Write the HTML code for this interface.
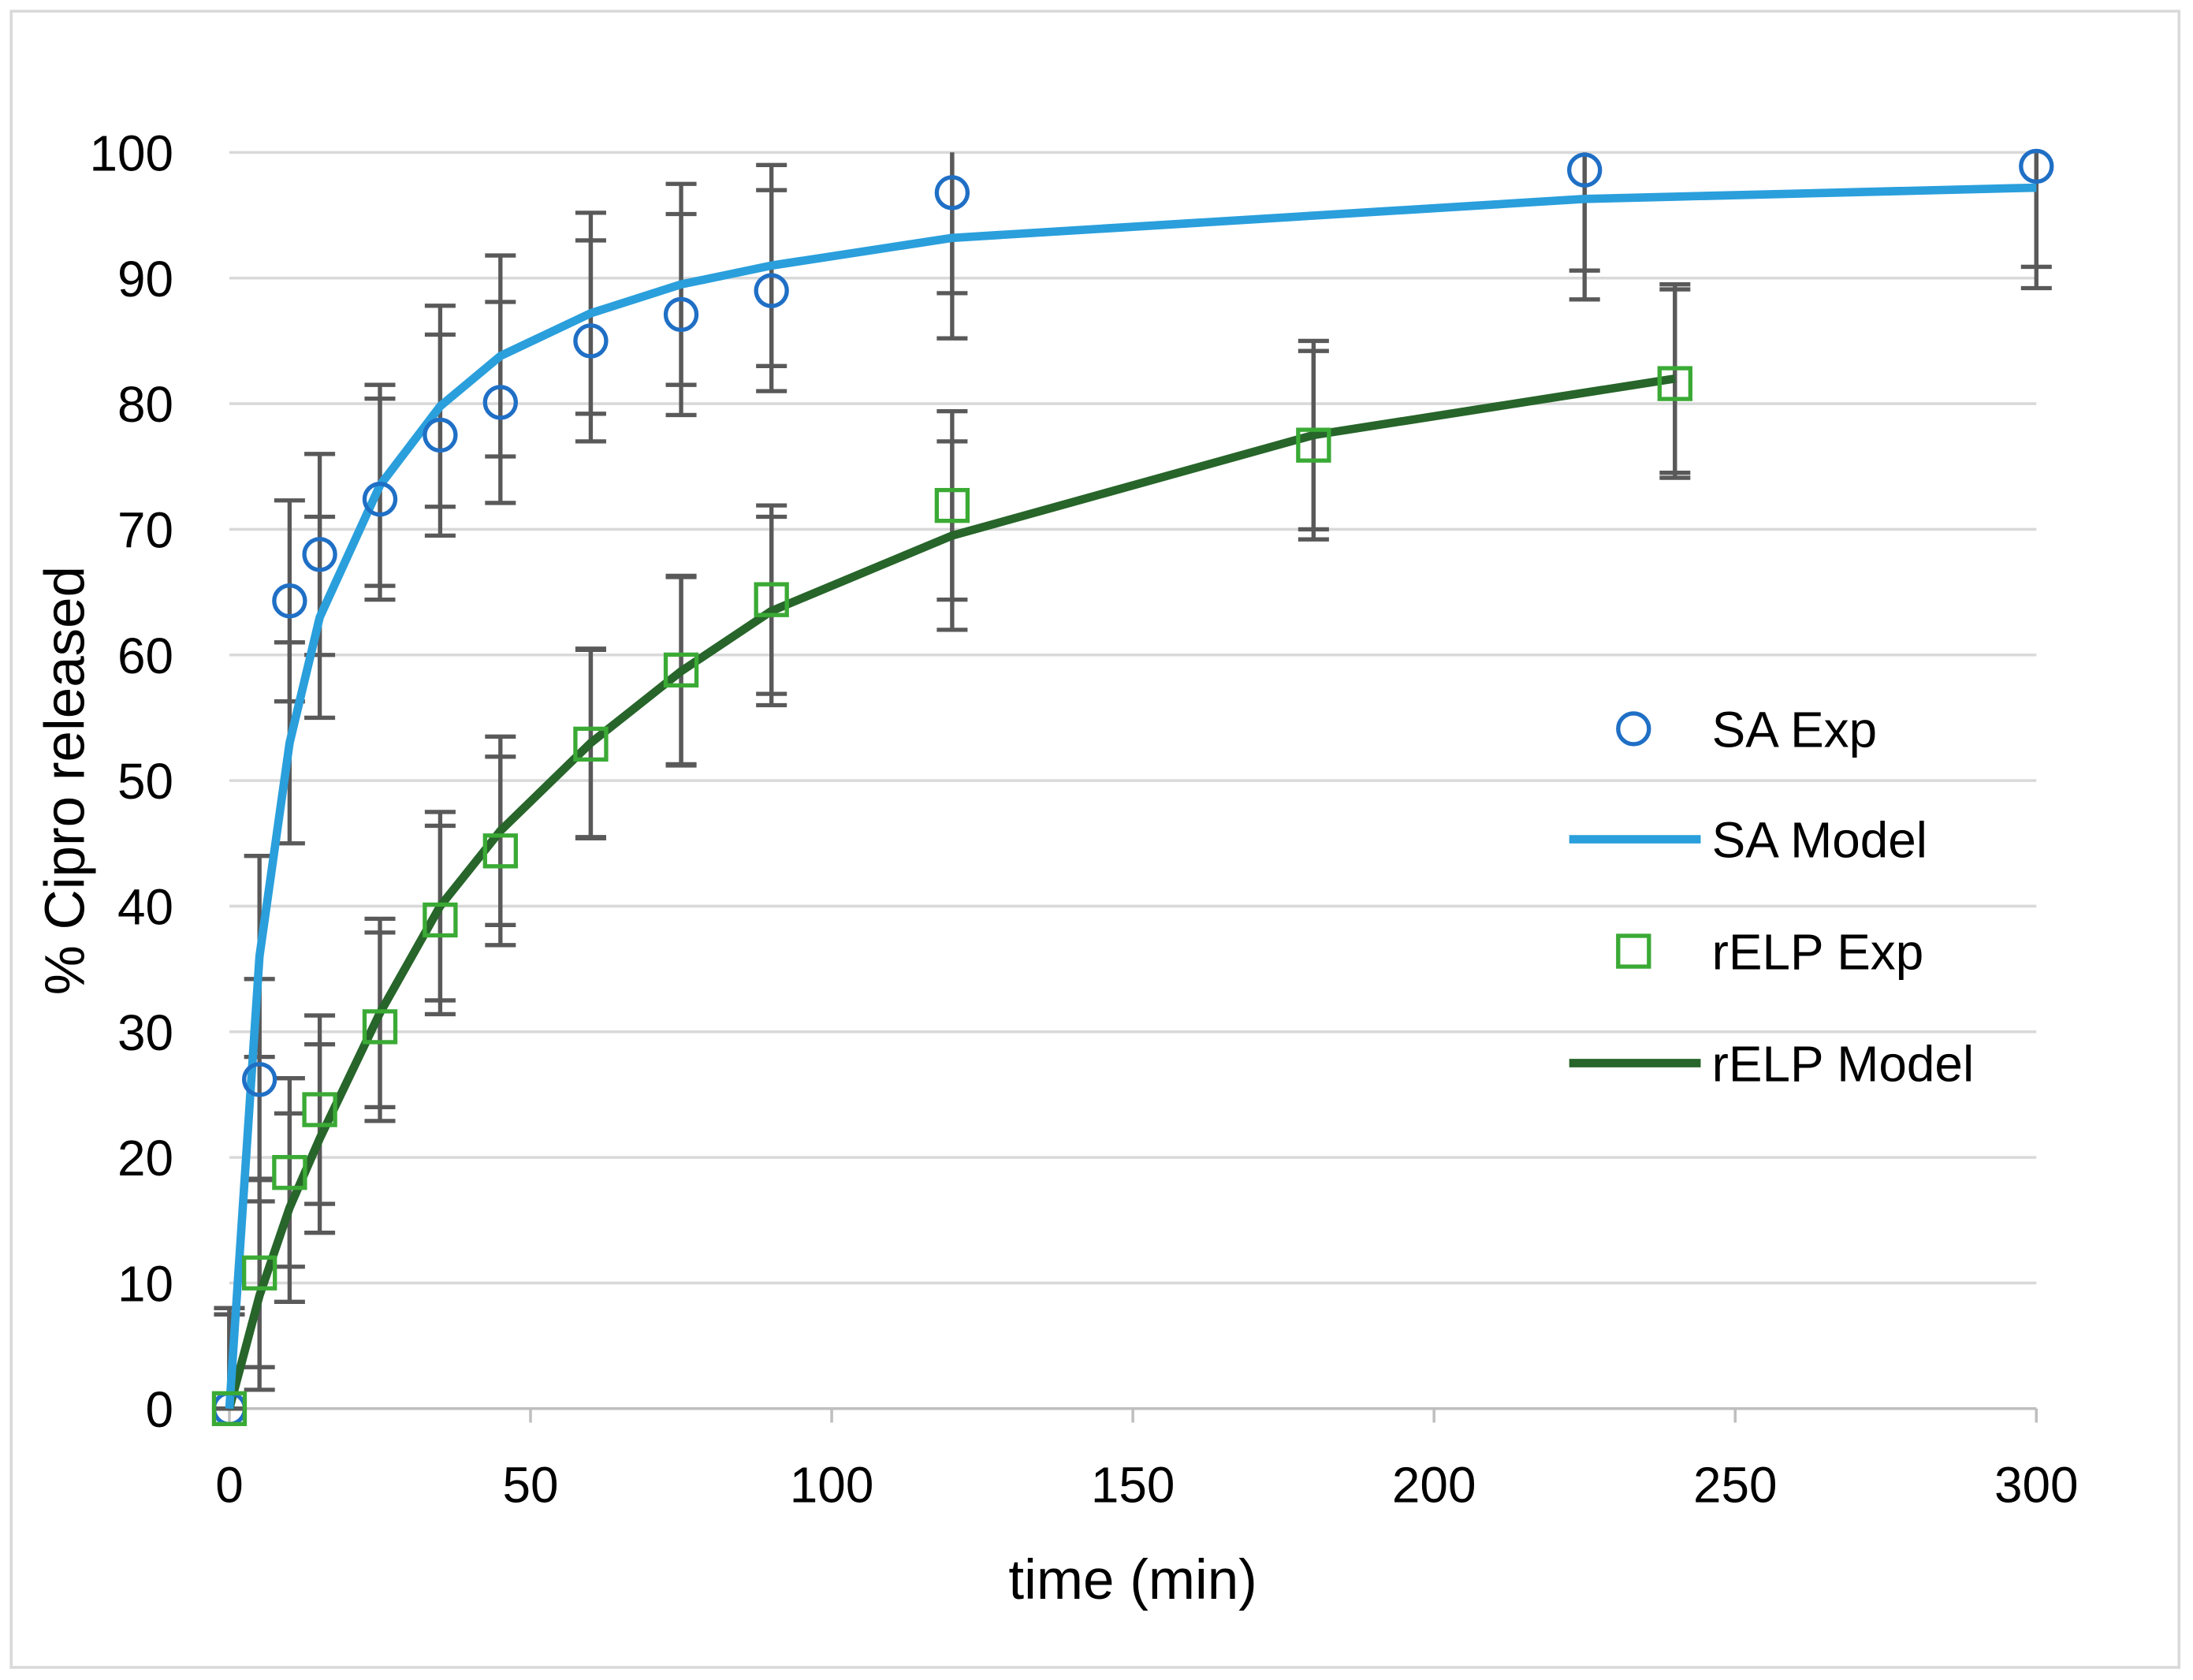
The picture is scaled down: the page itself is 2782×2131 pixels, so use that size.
<!DOCTYPE html>
<html><head><meta charset="utf-8"><style>
html,body{margin:0;padding:0;background:#fff}
svg{display:block}
text{font-family:"Liberation Sans",sans-serif;fill:#000}
</style></head><body>
<svg id="chart" width="2782" height="2131" viewBox="0 0 1568 1201" preserveAspectRatio="none" xmlns="http://www.w3.org/2000/svg">
<rect x="8" y="8" width="1550" height="1184" fill="#fff" stroke="#d9d9d9" stroke-width="2"/>
<g id="grid"></g><g id="axes"></g><g id="errs"></g><g id="lines"></g><g id="marks"></g>
<text transform="translate(60,558) rotate(-90)" text-anchor="middle" font-size="40">% Cipro released</text>
<text x="810" y="1143" text-anchor="middle" font-size="40">time (min)</text>
<g>
<circle cx="1168" cy="521" r="11" fill="none" stroke="#1f6fc5" stroke-width="3"/>
<text x="1224" y="534" font-size="36">SA Exp</text>
<line x1="1122" y1="600" x2="1216" y2="600" stroke="#2a9fdc" stroke-width="6"/>
<text x="1224" y="613" font-size="36">SA Model</text>
<rect x="1157" y="669" width="22" height="22" fill="none" stroke="#3aaa35" stroke-width="3"/>
<text x="1224" y="693" font-size="36">rELP Exp</text>
<line x1="1122" y1="760" x2="1216" y2="760" stroke="#27652a" stroke-width="6"/>
<text x="1224" y="773" font-size="36">rELP Model</text>
</g>
</svg>
<script>
const xTicks=[0,50,100,150,200,250,300];
const yTicks=[0,10,20,30,40,50,60,70,80,90,100];
const saTime=[0,5,10,15,25,35,45,60,75,90,120,225,300];
const saExp=[0,26.2,64.3,68,72.4,77.5,80.1,85,87.1,89,96.8,98.6,98.9];
const saModel=[0,36,53,63,73.5,79.8,83.8,87.2,89.5,91,93.2,96.3,97.2];
const saErr=8;
const relpTime=[0,5,10,15,25,35,45,60,75,90,120,180,240];
const relpExp=[0,10.8,18.8,23.8,30.4,38.9,44.4,52.9,58.8,64.4,71.9,76.7,81.6];
const relpModel=[0,9,16,21.5,31.5,40,46,53,58.7,63.5,69.5,77.5,82];
const relpErr=7.5;

const X=v=>164+v*(1456-164)/300;
const Y=v=>1007-v*(1007-109)/100;
const NS="http://www.w3.org/2000/svg";
function mk(tag,parent,attrs){const e=document.createElementNS(NS,tag);for(const k in attrs)e.setAttribute(k,attrs[k]);document.getElementById(parent).appendChild(e);return e;}

yTicks.forEach(t=>{
  if(t>0){const g=mk('line','grid',{x1:X(0),x2:X(300),y1:Y(t),y2:Y(t),stroke:'#d9d9d9','stroke-width':2});
  
  }
  const l=mk('text','axes',{x:124,y:Y(t)+13,'text-anchor':'end','font-size':36});l.textContent=t;
  
  
});
const ax=mk('line','axes',{x1:X(0),x2:X(300),y1:Y(0),y2:Y(0),stroke:'#bfbfbf','stroke-width':2});


xTicks.forEach(t=>{
  const tk=mk('line','axes',{x1:X(t),x2:X(t),y1:Y(0),y2:Y(0)+10,stroke:'#bfbfbf','stroke-width':2});
  
  
  const l=mk('text','axes',{x:X(t),y:1074,'text-anchor':'middle','font-size':36});l.textContent=t;
  
  
});
function errBars(xs,ys,e){
  xs.forEach((x,i)=>{
    const cx=X(x),lo=Y(Math.max(0,ys[i]-e)),top=ys[i]+e,hi=Y(Math.min(100,top));
    let d=`M${cx},${lo}V${hi}M${cx-11},${lo}h22`;
    if(top<=100)d+=`M${cx-11},${hi}h22`;
    const g=mk('path','errs',{d:d,stroke:'#595959','stroke-width':3,fill:'none'});
    
    
  });
}
errBars(saTime,saExp,saErr);errBars(saTime,saModel,saErr);
errBars(relpTime,relpExp,relpErr);errBars(relpTime,relpModel,relpErr);
function line(xs,ys,color,name){
  const p=mk('polyline','lines',{points:xs.map((x,i)=>X(x)+','+Y(ys[i])).join(' '),fill:'none',stroke:color,'stroke-width':6,'stroke-linejoin':'round'});
  
  
}
line(relpTime,relpModel,'#27652a','relp-model-line');
line(saTime,saModel,'#2a9fdc','sa-model-line');
saTime.forEach((x,i)=>{
  const c=mk('circle','marks',{cx:X(x),cy:Y(saExp[i]),r:11,fill:'none',stroke:'#1f6fc5','stroke-width':3});
  
  
});
relpTime.forEach((x,i)=>{
  const r=mk('rect','marks',{x:X(x)-11,y:Y(relpExp[i])-11,width:22,height:22,fill:'none',stroke:'#3aaa35','stroke-width':3});
  
  
});
</script>
</body></html>
